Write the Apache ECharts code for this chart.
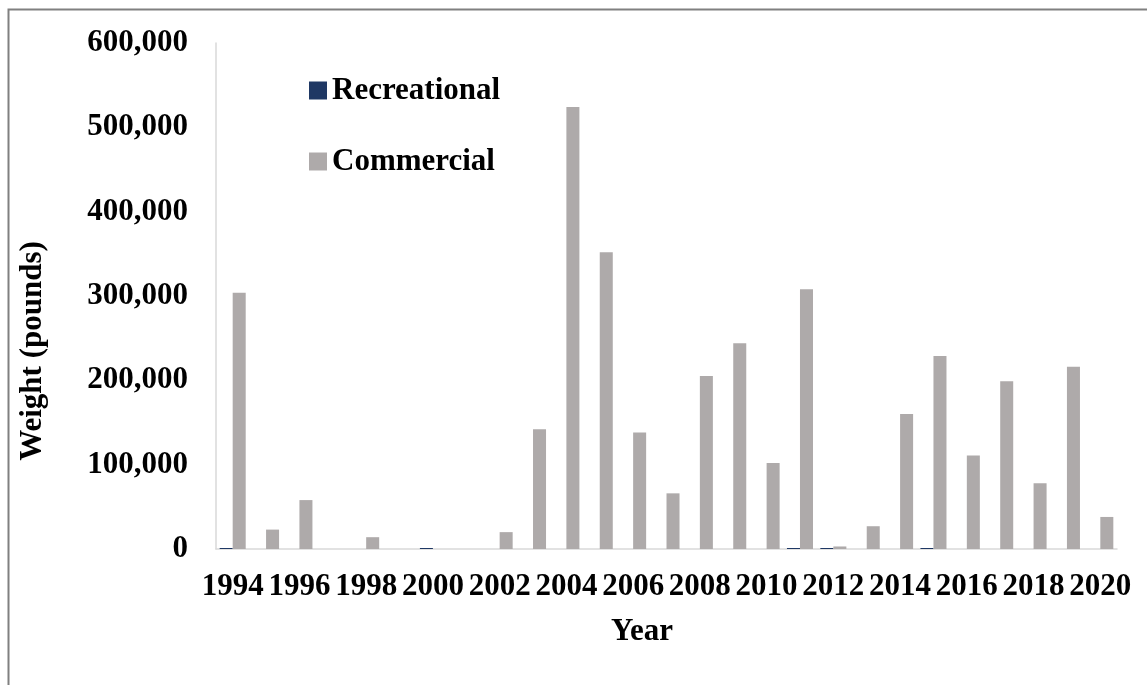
<!DOCTYPE html>
<html>
<head>
<meta charset="utf-8">
<script src="https://cdn.jsdelivr.net/npm/echarts@6/dist/echarts.min.js"></script>
<style>
html,body{margin:0;padding:0;background:#fff;}
#chart{width:1147px;height:685px;}
</style>
</head>
<body>
<div id="chart"></div>
<script>
const years = ['1994','1995','1996','1997','1998','1999','2000','2001','2002','2003','2004','2005','2006','2007','2008','2009','2010','2011','2012','2013','2014','2015','2016','2017','2018','2019','2020'];
const recreational = [1200,0,0,0,0,0,1200,0,0,0,0,0,0,0,0,0,0,1200,1200,0,0,1200,0,0,0,0,0];
const commercial = [304000,23000,58000,0,14000,0,0,0,20000,142000,524000,352000,138000,66000,205000,244000,102000,308000,3000,27000,160000,229000,111000,199000,78000,216000,38000];
const yTicks = [0,100000,200000,300000,400000,500000,600000];

const font = '"Liberation Serif", "Times New Roman", serif';
const chart = echarts.init(document.getElementById('chart'));
chart.setOption({
  backgroundColor: '#fff',
  animation: false,
  grid: {left: 216, top: 43, right: 30, bottom: 136, containLabel: false},
  legend: {
    orient: 'vertical',
    left: 304,
    top: 70,
    itemWidth: 18,
    itemHeight: 18,
    itemGap: 40,
    icon: 'rect',
    textStyle: {fontFamily: font, fontWeight: 'bold', fontSize: 31, color: '#000'},
    data: ['Recreational','Commercial']
  },
  xAxis: {
    type: 'category',
    data: years,
    axisLine: {lineStyle: {color: '#d9d9d9', width: 1.5}},
    axisTick: {show: false},
    axisLabel: {interval: 1, fontFamily: font, fontWeight: 'bold', fontSize: 31, color: '#000', margin: 22}
  },
  yAxis: {
    type: 'value',
    min: yTicks[0],
    max: yTicks[yTicks.length-1],
    interval: yTicks[1]-yTicks[0],
    axisLine: {show: true, lineStyle: {color: '#d9d9d9', width: 1.5}},
    axisTick: {show: false},
    splitLine: {show: false},
    axisLabel: {
      fontFamily: font, fontWeight: 'bold', fontSize: 31, color: '#000', margin: 28,
      formatter: v => v.toLocaleString('en-US')
    }
  },
  series: [
    {name: 'Recreational', type: 'bar', data: recreational, barGap: '0%', barCategoryGap: '22%',
     itemStyle: {color: '#1f3864'}},
    {name: 'Commercial', type: 'bar', data: commercial, barGap: '0%', barCategoryGap: '22%',
     itemStyle: {color: '#aeaaaa'}}
  ],
  graphic: [
    {type: 'rect', left: 6, top: 7, shape: {width: 1160, height: 700},
     style: {fill: 'none', stroke: '#808080', lineWidth: 2}, silent: true},
    {type: 'text', x: 33, y: 351, rotation: Math.PI/2, originX: 0, originY: 0,
     style: {text: 'Weight (pounds)', font: 'bold 31px ' + font, fill: '#000', align: 'center', verticalAlign: 'middle'}},
    {type: 'text', x: 642, y: 632,
     style: {text: 'Year', font: 'bold 31px ' + font, fill: '#000', align: 'center', verticalAlign: 'middle'}}
  ]
});
</script>
</body>
</html>
